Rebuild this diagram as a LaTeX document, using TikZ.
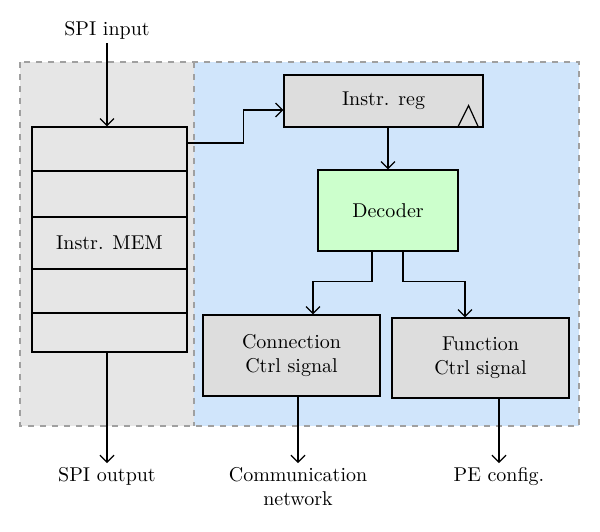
\documentclass[tikz,border=0pt]{standalone}
\usepackage{tikz}
\usetikzlibrary{positioning,arrows.meta,calc}
\definecolor{memgray}{HTML}{E6E6E6}
\definecolor{ctrlblue}{HTML}{D0E5FB}
\definecolor{boxgray}{HTML}{DDDDDD}
\definecolor{decgreen}{HTML}{CCFFCC}
\definecolor{dashgray}{HTML}{A0A0A0}

\begin{document}
\begin{tikzpicture}[
    x=0.5pt, y=-0.5pt,
    region/.style={draw=dashgray, dashed, line width=0.7pt},
    memrow/.style={draw, fill=memgray, minimum width=77.5pt, inner sep=0pt, semithick},
    block/.style={draw, fill=boxgray, align=center, inner sep=0pt, semithick},
    lbl/.style={align=center, inner sep=2pt},
    arrow/.style={-{Straight Barb[length=3.5pt, width=7pt]}, semithick}
]
\useasboundingbox (0,0) rectangle (600,531);

% the two dashed regions
\fill[memgray] (20,62) rectangle (194,426);
\fill[ctrlblue] (194,62) rectangle (579,426);
\draw[region] (20,62) rectangle (579,426);
\draw[region] (194,62) -- (194,426);

% instruction memory
\node[memrow, minimum height=22pt] (memrow1) at (109.5,149) {};
\node[memrow, minimum height=23pt] (memrow2) at (109.5,194) {};
\node[memrow, minimum height=26pt] (memrow3) at (109.5,243) {Instr. MEM};
\node[memrow, minimum height=22pt] (memrow4) at (109.5,291) {};
\node[memrow, minimum height=19.5pt] (memrow5) at (109.5,332.5) {};

% control path
\node[block, minimum width=99.5pt, minimum height=26pt] (instreg) at (383.5,101) {Instr. reg};
\node[block, fill=decgreen, minimum width=70pt, minimum height=40.5pt] (decoder) at (388,210.5) {Decoder};
\node[block, minimum width=88.5pt, minimum height=40.5pt] (conn) at (291.5,355.5) {Connection\\Ctrl signal};
\node[block, minimum width=88.5pt, minimum height=40pt] (func) at (480.5,358) {Function\\Ctrl signal};

\draw[semithick] ($(instreg.south east)+(-26,0)$) -- ++(11,-22) -- ++(10,22);

% outside labels
\node[lbl] (spiin) at (107,30) {SPI input};
\node[lbl, anchor=north] (spiout) at (107,463) {SPI output};
\node[lbl, anchor=north] (comm) at (298,463) {Communication\\network};
\node[lbl, anchor=north] (pecfg) at (499,463) {PE config.};

% connectors
\draw[arrow] (spiin.south) -- (spiin.south |- memrow1.north);
\draw[arrow] (spiout.north |- memrow5.south) -- (spiout.north);
\draw[arrow] ([yshift=3pt]memrow1.east) -- ++(56,0) |- ([yshift=-4.5pt]instreg.west);
\draw[arrow] (decoder.north |- instreg.south) -- (decoder.north);
\draw[arrow] ([xshift=-8pt]decoder.south) -- ++(0,30) -| ([xshift=10.75pt]conn.north);
\draw[arrow] ([xshift=7.5pt]decoder.south) -- ++(0,30) -| ([xshift=-7.75pt]func.north);
\draw[arrow] (comm.north |- conn.south) -- (comm.north);
\draw[arrow] (pecfg.north |- func.south) -- (pecfg.north);

\end{tikzpicture}
\end{document}
